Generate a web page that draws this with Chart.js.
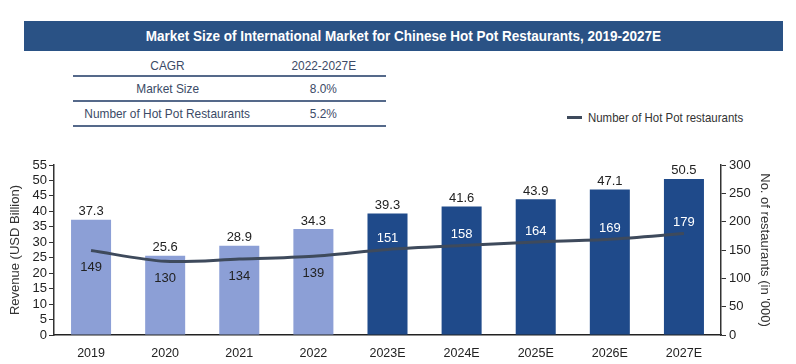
<!DOCTYPE html>
<html>
<head>
<meta charset="utf-8">
<script src="https://cdn.jsdelivr.net/npm/chart.js@4"></script>
<style>
  body { margin: 0; background: #fff; width: 796px; height: 364px; position: relative; overflow: hidden; font-family: "Liberation Sans", Arial, sans-serif; }
  /* no narrow font installed, so squeeze the regular one */
  .sq { display: inline-block; transform: scaleX(0.88); transform-origin: center; white-space: nowrap; }
  #banner { position: absolute; left: 24px; top: 21px; width: 759px; height: 30px; background: #2a5285; color: #fff; font-weight: bold; font-size: 15px; line-height: 30px; text-align: center; }
  #banner .sq { transform: scaleX(0.9); }
  #cagr { position: absolute; left: 73px; top: 56px; width: 313px; border-collapse: collapse; color: #3b4a66; font-size: 13.5px; }
  #cagr td { text-align: center; padding: 0; height: 23px; border-bottom: 2px solid #55698a; }
  #cagr tr.first td { height: 19px; }
  #cagr td.c1 { width: 182px; }
  #legend { position: absolute; left: 567px; top: 110px; font-size: 13px; color: #333; line-height: 16px; white-space: nowrap; }
  #legend span.sw { display: inline-block; width: 15px; height: 3px; background: #3e4a5c; vertical-align: middle; margin-right: 6px; position: relative; top: -1px; }
  #legend .sq { transform-origin: left; transform: scaleX(0.88); }
  #wrap { position: absolute; left: 0; top: 150px; width: 796px; height: 214px; }
</style>
</head>
<body>
<div id="banner"><span class="sq">Market Size of International Market for Chinese Hot Pot Restaurants, 2019-2027E</span></div>
<table id="cagr">
  <tr class="first"><td class="c1"><span class="sq">CAGR</span></td><td><span class="sq">2022-2027E</span></td></tr>
  <tr><td class="c1"><span class="sq">Market Size</span></td><td><span class="sq">8.0%</span></td></tr>
  <tr><td class="c1"><span class="sq">Number of Hot Pot Restaurants</span></td><td><span class="sq">5.2%</span></td></tr>
</table>
<div id="legend"><span class="sw"></span><span class="sq">Number of Hot Pot restaurants</span></div>
<div id="wrap"><canvas id="chart"></canvas></div>
<script>
// years on the x axis
const years = ['2019', '2020', '2021', '2022', '2023E', '2024E', '2025E', '2026E', '2027E'];
// market size, USD billion
const revenue = [37.3, 25.6, 28.9, 34.3, 39.3, 41.6, 43.9, 47.1, 50.5];
// number of hot pot restaurants, in '000
const restaurants = [149, 130, 134, 139, 151, 158, 164, 169, 179];

const lightBlue = '#8c9fd6';
const darkBlue = '#1f4a8a';
// historical years light, forecasts dark
const barColors = years.map(y => y.endsWith('E') ? darkBlue : lightBlue);

// value labels on bars and on the line
const labelPlugin = {
    id: 'valueLabels',
    afterDatasetsDraw(chart) {
        const ctx = chart.ctx;
        const barMeta = chart.getDatasetMeta(0);
        const lineMeta = chart.getDatasetMeta(1);
        ctx.save();
        ctx.font = '13px "Liberation Sans", Arial, sans-serif';
        ctx.textAlign = 'center';
        ctx.textBaseline = 'middle';
        barMeta.data.forEach((bar, i) => {
            ctx.fillStyle = '#222';
            ctx.fillText(revenue[i].toFixed(1), bar.x, bar.y - 8);
        });
        lineMeta.data.forEach((pt, i) => {
            const forecast = years[i].endsWith('E');
            ctx.fillStyle = forecast ? '#fff' : '#222';
            ctx.fillText(String(restaurants[i]), barMeta.data[i].x, forecast ? pt.y - 11 : pt.y + 17);
        });
        ctx.restore();
    }
};

new Chart(document.getElementById('chart').getContext('2d'), {
    data: {
        labels: years,
        datasets: [
            {
                type: 'bar',
                label: 'Revenue',
                data: revenue,
                yAxisID: 'y',
                backgroundColor: barColors,
                categoryPercentage: 1,
                barPercentage: 0.54,
                order: 1
            },
            {
                type: 'line',
                label: 'Number of Hot Pot restaurants',
                data: restaurants,
                yAxisID: 'y1',
                borderColor: '#3e4a5c',
                borderWidth: 3,
                pointRadius: 0,
                tension: 0.3,
                order: 0
            }
        ]
    },
    options: {
        responsive: true,
        maintainAspectRatio: false,
        animation: false,
        layout: { padding: { top: 15, left: 0, right: 0, bottom: 0 } },
        plugins: {
            legend: { display: false },
            tooltip: { enabled: false }
        },
        scales: {
            x: {
                grid: { display: false },
                border: { display: true, color: '#222', width: 1.5 },
                ticks: { color: '#222', font: { size: 12.5 }, padding: 3, maxRotation: 0 },
                afterFit: s => { s.height = 29; }
            },
            y: {
                position: 'left',
                min: 0,
                max: 55,
                ticks: { stepSize: 5, autoSkip: false, color: '#222', font: { size: 13 }, padding: 2 },
                grid: { display: true, drawOnChartArea: false, drawTicks: true, tickLength: 5, color: '#333' },
                border: { display: true, color: '#333', width: 1.5 },
                title: { display: true, text: 'Revenue (USD Billion)', color: '#333', font: { size: 13 }, padding: { top: 8, bottom: 0 } },
                afterFit: s => { s.width = 54; }
            },
            y1: {
                position: 'right',
                min: 0,
                max: 300,
                ticks: { stepSize: 50, autoSkip: false, color: '#222', font: { size: 13 }, padding: 3 },
                grid: { display: true, drawOnChartArea: false, drawTicks: true, tickLength: 5, color: '#333' },
                border: { display: true, color: '#333', width: 1.5 },
                title: { display: true, text: "No. of restaurants (in '000)", color: '#333', font: { size: 13 }, padding: { top: 24, bottom: 0 } },
                afterFit: s => { s.width = 75; }
            }
        }
    },
    plugins: [labelPlugin]
});
</script>
</body>
</html>
